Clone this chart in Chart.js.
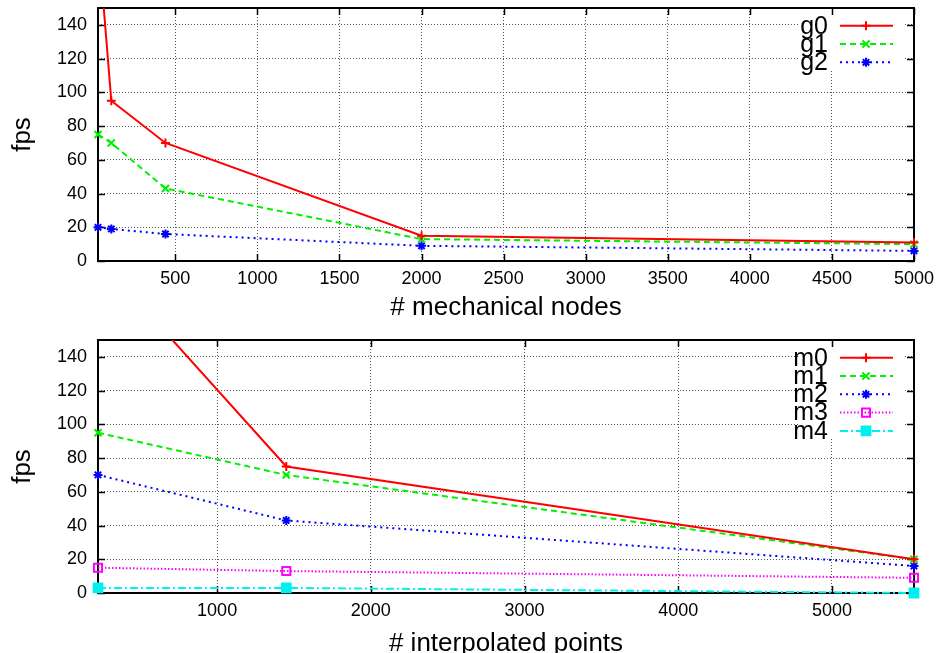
<!DOCTYPE html>
<html>
<head>
<meta charset="utf-8">
<script src="https://cdn.jsdelivr.net/npm/chart.js@4.4.1/dist/chart.umd.min.js"></script>
<style>
  html, body { margin: 0; padding: 0; background: #fff; overflow: hidden; }
  canvas { display: block; }
</style>
</head>
<body>
<canvas id="topChart" width="939" height="325"></canvas>
<canvas id="bottomChart" width="939" height="334"></canvas>
<script>
// top panel: fps against # mechanical nodes
const nodesX = [29, 110, 440, 2000, 5000];
const g0 = [192, 95, 70, 15, 11];
const g1 = [75, 70, 43, 13, 10];
const g2 = [20, 19, 16, 9, 6];
const nodesTicks = [500, 1000, 1500, 2000, 2500, 3000, 3500, 4000, 4500, 5000];

// bottom panel: fps against # interpolated points
const pointsX = [225, 1450, 5534];
const m0 = [199, 75, 20];
const m1 = [95, 70, 20];
const m2 = [70, 43, 16];
const m3 = [15, 13, 9];
const m4 = [3, 3, 0];
const pointsTicks = [1000, 2000, 3000, 4000, 5000];

const fpsTicks = [0, 20, 40, 60, 80, 100, 120, 140];
const fpsMax = 150;

const FONT = '"Liberation Sans", Arial, Helvetica, sans-serif';
Chart.defaults.font.family = FONT;
Chart.defaults.color = '#000';

// gnuplot-ish line styles
const styles = [
  { color: '#ff0000', dash: [],           point: 'cross',    r: 4.5, fill: 'rgba(0,0,0,0)' },
  { color: '#00f000', dash: [6, 4],       point: 'crossRot', r: 5,   fill: 'rgba(0,0,0,0)' },
  { color: '#0000ff', dash: [2, 4],       point: 'star',     r: 4.5, fill: 'rgba(0,0,0,0)' },
  { color: '#ff00ff', dash: [1.5, 2],     point: 'rect',     r: 5.7, fill: 'rgba(0,0,0,0)' },
  { color: '#00f0f0', dash: [8, 3, 2, 3], point: 'rect',     r: 6.2, fill: '#00f0f0' }
];

function makeDataset(label, xs, ys, i) {
  const s = styles[i];
  return {
    label: label,
    data: xs.map((x, k) => ({ x: x, y: ys[k] })),
    borderColor: s.color,
    borderWidth: 2,
    borderDash: s.dash,
    tension: 0,
    fill: false,
    pointStyle: s.point,
    pointRadius: s.r,
    pointHoverRadius: s.r,
    pointBorderWidth: 2,
    pointBorderColor: s.color,
    pointBackgroundColor: s.fill,
    clip: { left: 10, right: 10, top: 0, bottom: 10 }
  };
}

// box, inward tick marks on all sides, white legend background
const frame = {
  id: 'frame',
  beforeDatasetsDraw(chart) {
    const { ctx, chartArea: a, scales } = chart;
    const n = chart.data.datasets.length;
    ctx.save();
    ctx.fillStyle = '#fff';
    ctx.fillRect(a.right - 116, a.top + 1, 106, 18 * n + 8);
    ctx.strokeStyle = '#000';
    ctx.lineWidth = 1.5;
    ctx.beginPath();
    scales.x.ticks.forEach(t => {
      const px = Math.round(scales.x.getPixelForValue(t.value)) + 0.5;
      ctx.moveTo(px, a.bottom); ctx.lineTo(px, a.bottom - 7);
      ctx.moveTo(px, a.top); ctx.lineTo(px, a.top + 7);
    });
    scales.y.ticks.forEach(t => {
      const py = Math.round(scales.y.getPixelForValue(t.value)) + 0.5;
      ctx.moveTo(a.left, py); ctx.lineTo(a.left + 7, py);
      ctx.moveTo(a.right, py); ctx.lineTo(a.right - 7, py);
    });
    ctx.stroke();
    ctx.lineWidth = 2;
    ctx.strokeRect(a.left, a.top, a.right - a.left, a.bottom - a.top);
    ctx.restore();
  }
};

// key in the top right corner, text right-aligned then the line sample
const gpLegend = {
  id: 'gpLegend',
  afterDatasetsDraw(chart) {
    const { ctx, chartArea: a } = chart;
    ctx.save();
    chart.data.datasets.forEach((ds, i) => {
      const y = a.top + 17.7 + i * 18.3;
      ctx.font = '25px ' + FONT;
      ctx.fillStyle = '#000';
      ctx.textAlign = 'right';
      ctx.textBaseline = 'middle';
      ctx.fillText(ds.label, a.right - 86, y + 1);
      ctx.strokeStyle = ds.borderColor;
      ctx.lineWidth = ds.borderWidth;
      ctx.setLineDash(ds.borderDash);
      ctx.beginPath();
      ctx.moveTo(a.right - 74, y);
      ctx.lineTo(a.right - 21, y);
      ctx.stroke();
      ctx.setLineDash([]);
      ctx.fillStyle = ds.pointBackgroundColor;
      ctx.lineWidth = ds.pointBorderWidth;
      Chart.helpers.drawPoint(ctx, {
        pointStyle: ds.pointStyle, radius: ds.pointRadius, rotation: 0, borderWidth: ds.pointBorderWidth
      }, a.right - 48, y);
    });
    ctx.restore();
  }
};

function makeChart(id, datasets, xs, xTicks, xTitle, pad, xHeight, titlePad) {
  return new Chart(document.getElementById(id), {
    type: 'line',
    data: { datasets: datasets },
    plugins: [frame, gpLegend],
    options: {
      responsive: false,
      animation: false,
      layout: { padding: pad },
      plugins: { legend: { display: false }, tooltip: { enabled: false } },
      scales: {
        x: {
          type: 'linear',
          min: xs[0],
          max: xs[xs.length - 1],
          afterBuildTicks: s => { s.ticks = xTicks.map(v => ({ value: v })); },
          afterFit: s => { s.height = xHeight; s.paddingLeft = 0; s.paddingRight = 0; },
          grid: { color: '#555', lineWidth: 1, drawTicks: false },
          border: { display: false, dash: [1, 2] },
          ticks: { font: { size: 18 }, color: '#000', padding: 7, autoSkip: false, maxRotation: 0,
                   callback: v => String(v) },
          title: { display: true, text: xTitle, font: { size: 26 }, color: '#000', padding: titlePad }
        },
        y: {
          min: 0,
          max: fpsMax,
          afterBuildTicks: s => { s.ticks = fpsTicks.map(v => ({ value: v })); },
          afterFit: s => { s.width = 98; s.paddingTop = 0; s.paddingBottom = 0; },
          grid: { color: '#555', lineWidth: 1, drawTicks: false },
          border: { display: false, dash: [1, 2] },
          ticks: { font: { size: 18 }, color: '#000', padding: 11, callback: v => String(v) },
          title: { display: true, text: 'fps', font: { size: 26 }, color: '#000', padding: { top: 7, bottom: 0 } }
        }
      }
    }
  });
}

makeChart('topChart', [
  makeDataset('g0', nodesX, g0, 0),
  makeDataset('g1', nodesX, g1, 1),
  makeDataset('g2', nodesX, g2, 2)
], nodesX, nodesTicks, '# mechanical nodes',
  { top: 8, right: 25, left: 0, bottom: 0 }, 64, { top: 0, bottom: 2 });

makeChart('bottomChart', [
  makeDataset('m0', pointsX, m0, 0),
  makeDataset('m1', pointsX, m1, 1),
  makeDataset('m2', pointsX, m2, 2),
  makeDataset('m3', pointsX, m3, 3),
  makeDataset('m4', pointsX, m4, 4)
], pointsX, pointsTicks, '# interpolated points',
  { top: 15, right: 25, left: 0, bottom: 0 }, 66, { top: 0, bottom: 0 });
</script>
</body>
</html>
